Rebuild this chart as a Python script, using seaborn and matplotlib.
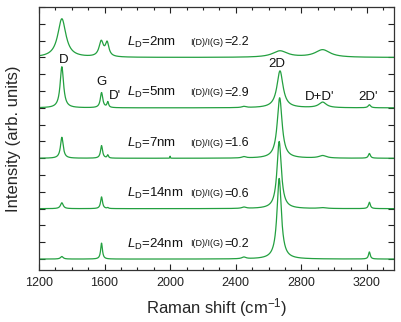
import numpy as np
import pandas as pd
import matplotlib
matplotlib.use("Agg")
import matplotlib.pyplot as plt
from matplotlib.ticker import MultipleLocator
import seaborn as sns

# Raman spectra of ion-bombarded graphene, stacked by defect distance L_D
sample_labels = ["2nm", "5nm", "7nm", "14nm", "24nm"]
ratio_labels = ["2.2", "2.9", "1.6", "0.6", "0.2"]
offsets = [12, 9, 6, 3, 0]

# peak parameters: centre (cm-1), height, FWHM (cm-1)
peaks_2nm = [(1340, 2.3, 60), (1580, 0.9, 32), (1616, 0.8, 26),
             (2670, 0.38, 110), (2930, 0.45, 110)]
peaks_5nm = [(1340, 2.45, 25), (1582, 0.90, 18), (1620, 0.33, 12),
             (2450, 0.07, 30), (2670, 2.20, 45), (2930, 0.33, 55),
             (3215, 0.18, 18)]
peaks_7nm = [(1340, 1.25, 20), (1582, 0.75, 15), (1620, 0.18, 10),
             (2000, 0.12, 3), (2450, 0.08, 30), (2668, 3.60, 36),
             (2930, 0.15, 55), (3215, 0.28, 15)]
peaks_14nm = [(1340, 0.35, 20), (1582, 0.70, 14), (1620, 0.05, 10),
              (2450, 0.08, 30), (2665, 4.00, 32), (2930, 0.05, 55),
              (3215, 0.38, 14)]
peaks_24nm = [(1340, 0.15, 20), (1582, 0.95, 13), (2450, 0.10, 30),
              (2665, 4.80, 32), (3215, 0.42, 13)]
all_peaks = [peaks_2nm, peaks_5nm, peaks_7nm, peaks_14nm, peaks_24nm]

# peak name labels: (text, x, y)
peak_names = [("D", 1352, 11.85), ("G", 1584, 10.55), ("D'", 1665, 9.7),
              ("2D", 2650, 11.6), ("D+D'", 2913, 9.65), ("2D'", 3206, 9.65)]

shift = np.arange(1200, 3400, 1.0)


def lorentz_sum(x, peaks):
    y = np.zeros_like(x)
    for x0, h, w in peaks:
        y += h * (w / 2) ** 2 / ((x - x0) ** 2 + (w / 2) ** 2)
    return y


rows = []
for name, off, pk in zip(sample_labels, offsets, all_peaks):
    rows.append(pd.DataFrame({"shift": shift,
                              "intensity": lorentz_sum(shift, pk) + off,
                              "sample": name}))
df = pd.concat(rows, ignore_index=True)

sns.set_theme(style="ticks")
plt.rcParams["font.family"] = ["Liberation Sans", "DejaVu Sans"]
plt.rcParams["mathtext.fontset"] = "custom"
plt.rcParams["mathtext.rm"] = "Liberation Sans"
plt.rcParams["mathtext.it"] = "Liberation Sans:italic"

green = "#23a040"
fig = plt.figure(figsize=(4.01, 3.22), dpi=100)
ax = fig.add_axes([0.097, 0.1615, 0.8855, 0.8165])

sns.lineplot(data=df, x="shift", y="intensity", hue="sample",
             palette=[green] * len(sample_labels), legend=False,
             linewidth=0.9, estimator=None, sort=False, ax=ax)

ax.set_xlim(1200, 3365)
ax.set_ylim(-0.65, 15.0)
ax.xaxis.set_major_locator(MultipleLocator(400))
ax.xaxis.set_minor_locator(MultipleLocator(100))
ax.yaxis.set_major_locator(MultipleLocator(1))
ax.set_yticklabels([])
ax.tick_params(which="both", direction="in", top=True, right=True,
               labelsize=9, colors="#222222", width=0.8)
ax.tick_params(which="major", length=4.5, pad=5)
ax.tick_params(which="minor", length=2.5)
for s in ax.spines.values():
    s.set_linewidth(0.9)
    s.set_color("#333333")

ax.set_xlabel("Raman shift (cm$^{-1}$)", fontsize=12, labelpad=5)
ax.set_ylabel("Intensity (arb. units)", fontsize=12, labelpad=8)

for name, ratio, off in zip(sample_labels, ratio_labels, offsets):
    y = off + 0.9
    ax.text(1735, y, r"$L_{\mathrm{D}}$=" + name, fontsize=9.5, va="center",
            color="#111111")
    ax.text(2120, y, "I(D)/I(G)", fontsize=6.5, va="center", color="#111111")
    ax.text(2330, y, "=" + ratio, fontsize=9, va="center", color="#111111")

for txt, x, y in peak_names:
    ax.text(x, y, txt, fontsize=9.5, ha="center", va="center",
            color="#111111")

plt.savefig("out.png", dpi=100)
